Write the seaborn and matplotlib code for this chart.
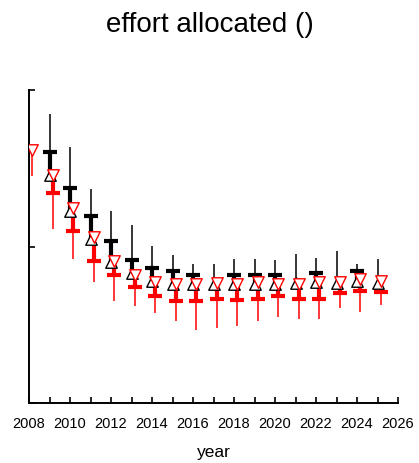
import numpy as np
import pandas as pd
import matplotlib
matplotlib.use("Agg")
import matplotlib.pyplot as plt
import seaborn as sns

# Effort allocated by year: black series (upper range, median bar, estimate)
years = [2008, 2009, 2010, 2011, 2012, 2013, 2014, 2015, 2016, 2017,
         2018, 2019, 2020, 2021, 2022, 2023, 2024, 2025]

black_hi = [np.nan, 1.846, 1.637, 1.365, 1.226, 1.137, 1.002, 0.944, 0.885, 0.885,
            0.917, 0.917, 0.912, 0.955, 0.927, 0.970, 0.890, 0.921]
black_bar = [np.nan, 1.605, 1.376, 1.194, 1.038, 0.912, 0.865, 0.842, 0.816, np.nan,
             0.818, 0.820, 0.820, np.nan, 0.831, np.nan, 0.842, np.nan]
black_pt = [np.nan, 1.455, 1.230, 1.045, 0.904, 0.833, 0.780, 0.763, 0.763, 0.763,
            0.760, 0.763, 0.763, 0.768, 0.776, 0.766, 0.782, 0.769]

# Red series (estimate, median bar, lower range)
red_pt = [1.615, 1.460, 1.245, 1.058, 0.910, 0.820, 0.776, 0.763, 0.760, 0.765,
          0.763, 0.770, 0.763, 0.763, 0.770, 0.776, 0.795, 0.782]
red_bar = [np.nan, 1.340, 1.096, 0.910, 0.816, 0.739, 0.681, 0.654, 0.650, 0.667,
           0.656, 0.667, 0.681, 0.667, 0.667, 0.703, 0.714, 0.710]
red_lo = [1.449, 1.115, 0.917, 0.776, 0.649, 0.617, 0.577, 0.521, 0.468, 0.481,
          0.494, 0.521, 0.551, 0.538, 0.538, 0.607, 0.579, 0.628]

x_ticks = list(range(2008, 2027))
x_labels = [str(y) if y % 2 == 0 else "" for y in x_ticks]

sns.set_style("ticks")
plt.rcParams["font.family"] = ["Liberation Sans", "DejaVu Sans"]
plt.rcParams["text.color"] = "black"
plt.rcParams["axes.labelcolor"] = "black"
plt.rcParams["xtick.color"] = "black"
plt.rcParams["ytick.color"] = "black"
plt.rcParams["axes.edgecolor"] = "black"

fig = plt.figure(figsize=(4.19, 4.63), dpi=100)
ax = fig.add_axes([29 / 419, 60 / 463, 369 / 419, 313 / 463])

yrs = np.array(years, dtype=float)
xb = yrs
xr = yrs + 0.15

df_b = pd.DataFrame({"year": xb, "hi": black_hi, "bar": black_bar, "pt": black_pt})
df_r = pd.DataFrame({"year": xr, "pt": red_pt, "bar": red_bar, "lo": red_lo})

# black: thin range line, thick segment bar->estimate, horizontal bar
ax.vlines(df_b["year"], df_b["pt"], df_b["hi"], color="black", lw=1.1, zorder=2)
ax.vlines(df_b["year"], df_b["pt"], df_b["bar"], color="black", lw=3.0, zorder=2)
ax.plot(df_b["year"], df_b["bar"], ls="none", marker="_", ms=9.5, mew=3.0,
        color="black", zorder=3)

# red: thin range line, thick segment estimate->bar, horizontal bar
ax.vlines(df_r["year"], df_r["lo"], df_r["pt"], color="red", lw=1.1, zorder=2)
ax.vlines(df_r["year"], df_r["bar"], df_r["pt"], color="red", lw=3.0, zorder=2)
ax.plot(df_r["year"], df_r["bar"], ls="none", marker="_", ms=9.5, mew=3.0,
        color="red", zorder=3)

# estimates as open triangles
sns.scatterplot(data=df_b, x="year", y="pt", marker="^", s=68, facecolor="white",
                edgecolor="black", linewidth=1.0, ax=ax, zorder=4)
sns.scatterplot(data=df_r, x="year", y="pt", marker="v", s=68, facecolor="white",
                edgecolor="red", linewidth=1.0, ax=ax, zorder=5)

ax.set_xlim(2008, 2026)
ax.set_ylim(0, 2)
ax.set_xticks(x_ticks)
ax.set_xticklabels(x_labels, fontsize=10.5)
ax.set_yticks([0, 1, 2])
ax.set_yticklabels([])
ax.tick_params(direction="in", length=4, width=1.2, pad=10)
for s in ["top", "right"]:
    ax.spines[s].set_visible(False)
for s in ["left", "bottom"]:
    ax.spines[s].set_linewidth(1.4)
ax.set_xlabel("year", fontsize=12.5, labelpad=10)
ax.set_ylabel("")
fig.text(0.5, 0.947, "effort allocated ()", ha="center", va="center", fontsize=20)

fig.savefig("out.png", dpi=100)
